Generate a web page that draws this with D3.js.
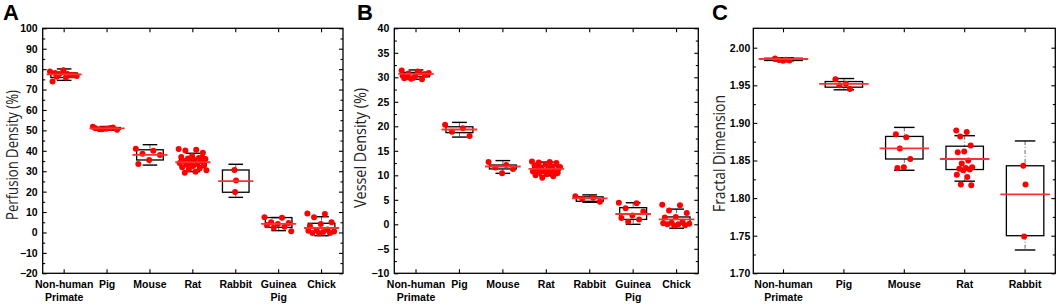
<!DOCTYPE html>
<html><head><meta charset="utf-8">
<script src="https://cdn.jsdelivr.net/npm/d3@7"></script>
<style>
html,body{margin:0;padding:0;background:#fff;}
svg{display:block;}
</style></head>
<body>
<script>
// ---------------- DATA ----------------
const catsAB = ["Non-human|Primate","Pig","Mouse","Rat","Rabbit","Guinea|Pig","Chick"];
const catsC  = ["Non-human|Primate","Pig","Mouse","Rat","Rabbit"];

// Panel A: Perfusion Density (%)
const perfPoints = [
  [78.8,77.6,76.3,77.1,79.5,73.9,77.1,77.6,76.6,75.9,78.1,77.0],
  [51.8,51.2,50.5,50.3,50.8,51.0,51.4,50.6],
  [41.0,40.0,38.5,38.0,35.5,33.5],
  [40.9,40.5,40.2,39.0,37.5,37.0,36.5,36.2,36.0,35.5,35.0,34.8,34.5,34.0,33.5,33.2,32.8,32.5,32.0,31.5,31.0,30.5,29.8,29.2,36.8,33.8],
  [30.6,25.4,19.8],
  [7.4,7.2,5.0,4.6,4.2,3.6,2.8,2.3,0.6],
  [9.3,9.0,7.5,5.0,4.2,3.2,1.5,1.0,0.5,0.2,-0.2,-0.3,-0.4,0.8]
];
const perfMedian = [77.4, 51.0, 38.0, 34.4, 25.1, 4.2, 2.2];
const perfQ1     = [75.9, 50.6, 35.5, 32.7, 19.7, 2.5, 0.4];
const perfQ3     = [78.1, 51.4, 40.5, 36.0, 30.6, 7.3, 4.5];
const perfWLo    = [74.5, 50.1, 33.0, 29.8, 17.2, 0.9, -1.6];
const perfWHi    = [80.1, 51.9, 43.0, 38.8, 33.4, 7.3, 7.7];
const perfTicks  = [-20,-10,0,10,20,30,40,50,60,70,80,90,100];

// Panel B: Vessel Density (%)
const vesPoints = [
  [31.4,31.0,30.8,30.5,30.2,29.8,29.6,29.7,30.9,31.2,30.0,30.6,29.9,30.3],
  [20.3,19.6,18.9,18.0],
  [12.7,12.1,11.6,11.3,10.4],
  [12.8,12.7,12.6,12.5,12.2,12.0,11.8,11.6,11.5,11.3,11.2,11.0,10.9,10.8,10.6,10.5,10.4,10.2,10.0,9.8,9.5,11.7,10.7,12.3],
  [5.7,5.4,5.2,4.6],
  [4.4,4.3,3.3,2.6,1.8,1.3,1.0,0.5],
  [4.0,3.9,2.8,2.3,1.5,1.4,0.5,0.3,0.1,0.0,0.0,-0.2,-0.3,0.2]
];
const vesMedian = [30.7, 19.35, 11.8, 11.3, 5.3, 2.1, 1.0];
const vesQ1     = [30.1, 18.7, 11.3, 10.5, 4.7, 1.0, 0.0];
const vesQ3     = [31.0, 19.9, 12.1, 11.9, 5.6, 3.4, 1.5];
const vesWLo    = [29.6, 17.8, 10.4, 9.9, 4.5, 0.0, -0.8];
const vesWHi    = [31.5, 20.8, 13.0, 12.7, 6.0, 4.4, 3.1];
const vesTicks  = [-10,-5,0,5,10,15,20,25,30,35,40];

// Panel C: Fractal Dimension
const fracPoints = [
  [1.9855,1.9840,1.9835,1.9830,1.9825],
  [1.958,1.952,1.950,1.945],
  [1.885,1.881,1.866,1.852,1.841,1.840],
  [1.890,1.888,1.882,1.870,1.862,1.861,1.850,1.846,1.841,1.840,1.839,1.838,1.837,1.831,1.828,1.818,1.817],
  [1.843,1.818,1.749]
];
const fracMedian = [1.985, 1.952, 1.866, 1.852, 1.805];
const fracQ1     = [1.983, 1.9475, 1.852, 1.838, 1.750];
const fracQ3     = [1.986, 1.955, 1.882, 1.869, 1.843];
const fracWLo    = [1.9825, 1.944, 1.837, 1.8225, 1.731];
const fracWHi    = [1.9865, 1.959, 1.894, 1.883, 1.876];
const fracTicks  = [1.70,1.75,1.80,1.85,1.90,1.95,2.00];

// ---------------- DRAW ----------------
const W = 1059, H = 306;
const svg = d3.select("body").append("svg").attr("width", W).attr("height", H)
  .style("font-family", "'Liberation Sans', Arial, sans-serif");

const panels = [
  {letter:"A", cats:catsAB, pts:perfPoints, med:perfMedian, q1:perfQ1, q3:perfQ3, lo:perfWLo, hi:perfWHi,
   ticks:perfTicks, dom:[-20,100], fmt:d3.format("d"), title:"Perfusion Density (%)",
   left:42.7, right:343, letterX:3, titleX:18, titleY:155, titleLen:130, pad:5, spread:0.33},
  {letter:"B", cats:catsAB, pts:vesPoints, med:vesMedian, q1:vesQ1, q3:vesQ3, lo:vesWLo, hi:vesWHi,
   ticks:vesTicks, dom:[-10,40], fmt:d3.format("d"), title:"Vessel Density (%)",
   left:394.3, right:698.3, letterX:357, titleX:366, titleY:148, titleLen:120, pad:5, spread:0.33},
  {letter:"C", cats:catsC, pts:fracPoints, med:fracMedian, q1:fracQ1, q3:fracQ3, lo:fracWLo, hi:fracWHi,
   ticks:fracTicks, dom:[1.70,2.0258], fmt:d3.format(".2f"), title:"Fractal Dimension",
   left:753.3, right:1055.3, letterX:712, titleX:725, titleY:153.5, titleLen:117, pad:3, spread:0.14}
];
const plotTop = 28.3, plotBottom = 273.3;

panels.forEach(p => {
  const g = svg.append("g");
  const x = d3.scaleBand().domain(p.cats).range([p.left, p.right]).padding(0);
  const y = d3.scaleLinear().domain(p.dom).range([plotBottom, plotTop]);
  const bw = x.bandwidth();
  const cx = c => x(c) + bw / 2;

  const step = p.ticks[1] - p.ticks[0];
  const minor = p.ticks.slice(0, -1).map(t => t + step / 2).filter(v => y(v) >= plotTop);

  const fontTick = "bold 10.5px 'Liberation Sans', Arial, sans-serif";
  const styleTicks = sel => { sel.select(".domain").remove(); sel.selectAll("line").attr("stroke", "#000").attr("stroke-width", 1.1); };

  const ax = g.append("g").attr("transform", `translate(${p.left},0)`)
    .call(d3.axisLeft(y).tickValues(p.ticks).tickSize(-4).tickPadding(p.pad).tickFormat(p.fmt));
  styleTicks(ax);
  ax.selectAll("text").style("font", fontTick).attr("fill", "#000");
  styleTicks(g.append("g").attr("transform", `translate(${p.left},0)`)
    .call(d3.axisLeft(y).tickValues(minor).tickSize(-2.5).tickFormat("")));
  styleTicks(g.append("g").attr("transform", `translate(${p.right},0)`)
    .call(d3.axisRight(y).tickValues(p.ticks).tickSize(-4).tickFormat("")));
  styleTicks(g.append("g").attr("transform", `translate(${p.right},0)`)
    .call(d3.axisRight(y).tickValues(minor).tickSize(-2.5).tickFormat("")));
  styleTicks(g.append("g").attr("transform", `translate(0,${plotBottom})`)
    .call(d3.axisBottom(x).tickSize(-4).tickFormat("")));
  styleTicks(g.append("g").attr("transform", `translate(0,${plotTop})`)
    .call(d3.axisTop(x).tickSize(-4).tickFormat("")));

  // category labels (multi-line)
  p.cats.forEach(c => {
    const lines = c.split("|");
    const t = g.append("text").attr("text-anchor", "middle").style("font", fontTick).attr("fill", "#000");
    lines.forEach((l, i) => {
      t.append("tspan").attr("x", cx(c)).attr("y", 288 + i * 13).text(l);
    });
  });

  // frame
  g.append("rect").attr("x", p.left).attr("y", plotTop)
    .attr("width", p.right - p.left).attr("height", plotBottom - plotTop)
    .attr("fill", "none").attr("stroke", "#000").attr("stroke-width", 1.3);

  // boxes
  p.cats.forEach((c, i) => {
    const xc = cx(c);
    const boxW = bw * 0.62, capW = bw * 0.34, medW = bw * 0.82;
    g.append("line").attr("x1", xc).attr("x2", xc).attr("y1", y(p.hi[i])).attr("y2", y(p.q3[i]))
      .attr("stroke", "#666").attr("stroke-width", 1).attr("stroke-dasharray", "4,2,1,2");
    g.append("line").attr("x1", xc).attr("x2", xc).attr("y1", y(p.q1[i])).attr("y2", y(p.lo[i]))
      .attr("stroke", "#666").attr("stroke-width", 1).attr("stroke-dasharray", "4,2,1,2");
    [p.hi[i], p.lo[i]].forEach(v => {
      g.append("line").attr("x1", xc - capW / 2).attr("x2", xc + capW / 2).attr("y1", y(v)).attr("y2", y(v))
        .attr("stroke", "#000").attr("stroke-width", 1.4);
    });
    g.append("rect").attr("x", xc - boxW / 2).attr("y", y(p.q3[i]))
      .attr("width", boxW).attr("height", Math.max(0.5, y(p.q1[i]) - y(p.q3[i])))
      .attr("fill", "none").attr("stroke", "#000").attr("stroke-width", 1.3);
    const n = p.pts[i].length;
    const amp = n <= 3 ? bw * 0.03 : bw * p.spread;
    g.selectAll(null).data(p.pts[i]).enter().append("circle")
      .attr("cx", (d, j) => xc + (((j * 0.6180339887) % 1) - 0.5) * 2 * amp)
      .attr("cy", d => y(d))
      .attr("r", 3)
      .attr("fill", "#ff0000");
    g.append("line").attr("x1", xc - medW / 2).attr("x2", xc + medW / 2)
      .attr("y1", y(p.med[i])).attr("y2", y(p.med[i]))
      .attr("stroke", "#ff3030").attr("stroke-width", 1.8);
  });

  // y title
  g.append("text")
    .attr("transform", `translate(${p.titleX},${p.titleY}) rotate(-90)`)
    .attr("text-anchor", "middle")
    .attr("textLength", p.titleLen).attr("lengthAdjust", "spacingAndGlyphs")
    .style("font", "15.5px 'Open Sans', 'Liberation Sans', sans-serif")
    .attr("fill", "#222")
    .text(p.title);

  // panel letter
  g.append("text").attr("x", p.letterX).attr("y", 19.5)
    .style("font", "bold 22px 'Liberation Sans', Arial, sans-serif").attr("fill", "#000")
    .text(p.letter);
});
</script>
</body></html>
